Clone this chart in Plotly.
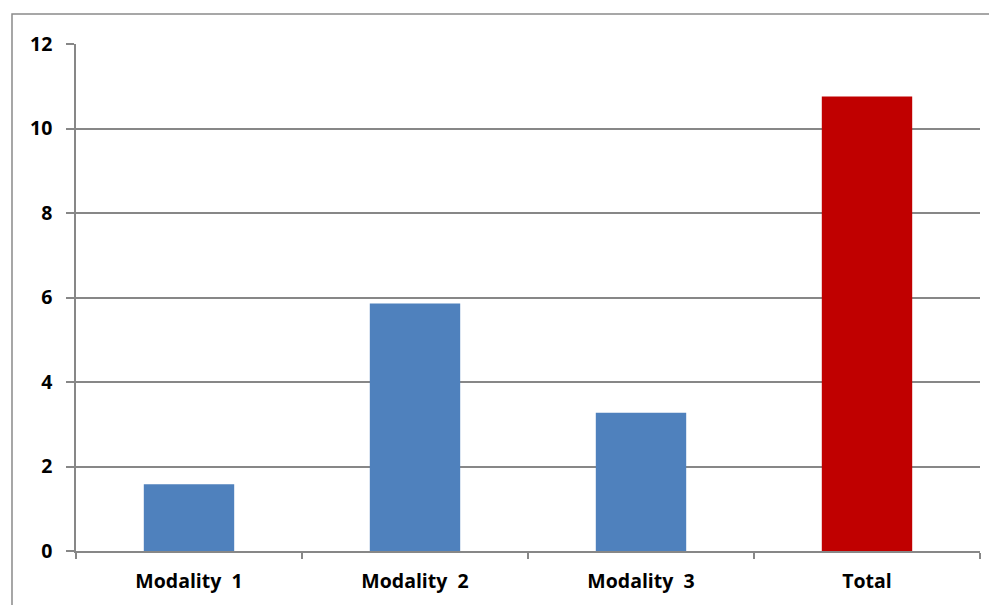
import plotly.graph_objects as go

categories = ["Modality\u00a0\u00a01", "Modality\u00a0\u00a02", "Modality\u00a0\u00a03", "Total"]
values = [1.58, 5.86, 3.27, 10.76]
bar_colors = ["#4F81BD", "#4F81BD", "#4F81BD", "#C00000"]
y_ticks = [0, 2, 4, 6, 8, 10, 12]

fig = go.Figure()
fig.add_trace(go.Bar(x=categories, y=values, marker=dict(color=bar_colors, line=dict(width=0)),
                     hoverinfo="skip"))

axis_font = dict(family="'Open Sans', sans-serif", size=19.5, color="#000000", weight="bold")
gray = "#878787"

# page body has an 8px margin, so the figure starts at (8, 8)
fig.update_layout(
    width=997, height=605,
    margin=dict(l=68, r=25, t=36, b=62, autoexpand=False),
    paper_bgcolor="white", plot_bgcolor="white",
    bargap=0.6, showlegend=False,
    xaxis=dict(type="category", tickson="boundaries", ticks="outside", ticklen=6, tickwidth=1.5,
               tickcolor=gray, showline=True, linecolor=gray, linewidth=1.5, showgrid=False,
               tickfont=axis_font, ticklabelstandoff=12),
    yaxis=dict(range=[0, 12], tickvals=y_ticks, ticks="outside", ticklen=8, tickwidth=1.5,
               tickcolor=gray, showline=True, linecolor=gray, linewidth=1.5, showgrid=True,
               gridcolor=gray, gridwidth=1.5, zeroline=False, tickfont=axis_font,
               ticklabelstandoff=10, fixedrange=True),
    shapes=[dict(type="rect", xref="paper", yref="paper", x0=-0.0708, x1=1.1, y0=-0.3, y1=1.059,
                 line=dict(color="#8a8a8a", width=1.5), layer="below")],
)

fig.write_html("out.html")
